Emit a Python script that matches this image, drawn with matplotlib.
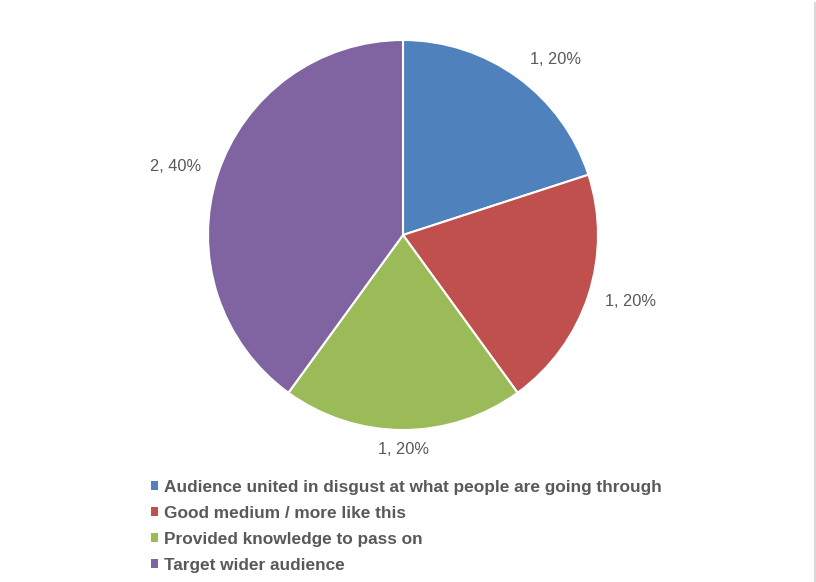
import numpy as np
import matplotlib
matplotlib.use("Agg")
import matplotlib.pyplot as plt
from matplotlib.patches import Patch
from matplotlib.lines import Line2D

# Data
categories = ["Audience united in disgust at what people are going through",
              "Good medium / more like this",
              "Provided knowledge to pass on",
              "Target wider audience"]
counts = [1, 1, 1, 2]
colors = ["#4F81BD", "#C0504D", "#9BBB59", "#8064A2"]
# data label centres, in units of pie radius
label_pos = [(0.78, 0.90), (1.165, -0.34), (0.0, -1.10), (-1.167, 0.35)]

plt.rcParams['font.family'] = ['Liberation Sans', 'DejaVu Sans']
text_color = "#595959"

W, H = 816, 582
fig = plt.figure(figsize=(W / 100, H / 100), dpi=100)

# pie axes: centre (403, 235) px, radius 195 px
cx, cy, r = 403, 235, 195
ax = fig.add_axes([(cx - r) / W, (H - cy - r) / H, 2 * r / W, 2 * r / H])
wedges, _ = ax.pie(counts, colors=colors, startangle=90, counterclock=False,
                   radius=1, wedgeprops=dict(edgecolor="white", linewidth=1.5))
ax.set_xlim(-1, 1)
ax.set_ylim(-1, 1)
ax.set_aspect("equal")
ax.axis("off")

total = sum(counts)
for c, (x, y) in zip(counts, label_pos):
    ax.text(x, y, f"{c}, {c / total:.0%}",
            ha="center", va="center", fontsize=11.8, color=text_color)

# legend
handles = [Patch(facecolor=col, edgecolor="none") for col in colors]
fig.legend(handles, categories, loc="upper left",
           bbox_to_anchor=(151 / W, 1 - 480 / H), frameon=False,
           prop=dict(size=12.4, weight="bold"), labelcolor=text_color,
           handlelength=0.4, handleheight=0.4, handletextpad=0.38,
           labelspacing=0.63, borderaxespad=0, borderpad=0)

# thin right border
fig.add_artist(Line2D([1 - 1.5 / W, 1 - 1.5 / W], [0, 1 - 3 / H],
                      transform=fig.transFigure, color="#D9D9D9", linewidth=1.5))

fig.savefig("out.png", dpi=100)
